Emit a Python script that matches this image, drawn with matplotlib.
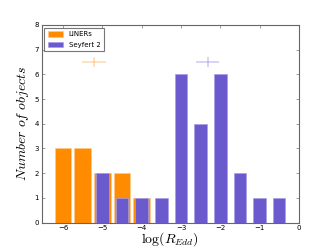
import matplotlib
matplotlib.use("Agg")
import matplotlib.pyplot as plt

plt.rcParams["mathtext.fontset"] = "cm"

liner_centers = [-6.0, -5.5, -5.0, -4.5, -4.0]
liner_counts = [3, 3, 2, 2, 1]
sy2_centers = [-5.0, -4.5, -4.0, -3.5, -3.0, -2.5, -2.0, -1.5, -1.0, -0.5]
sy2_counts = [2, 1, 1, 1, 6, 4, 6, 2, 1, 1]
liner_mean = -5.22
sy2_mean = -2.32
mean_y = 6.5
mean_xerr = 0.3
mean_yerr = 0.2

orange = "#FF8C00"
blue = "#6A5ACD"

fig = plt.figure(figsize=(3.32, 2.49), dpi=100)
ax = fig.add_axes([0.125, 0.106, 0.775, 0.794])

ax.bar(liner_centers, liner_counts, width=0.42, color=orange,
       edgecolor="#FFC888", linewidth=0.5, label="LINERs", zorder=2)
ax.bar(sy2_centers, sy2_counts, width=0.32, color=blue,
       edgecolor="#A89EE6", linewidth=0.5, label="Seyfert 2", zorder=3)

ax.errorbar([liner_mean], [mean_y], xerr=mean_xerr, yerr=mean_yerr,
            color=orange, alpha=0.3, lw=1.2, capsize=0, zorder=4)
ax.errorbar([sy2_mean], [mean_y], xerr=mean_xerr, yerr=mean_yerr,
            color=blue, alpha=0.3, lw=1.2, capsize=0, zorder=4)

ax.set_xlim(-6.55, 0)
ax.set_ylim(0, 8)
ax.set_xticks(range(-6, 1))
ax.set_yticks(range(0, 9))
ax.tick_params(direction="in", top=True, right=True, length=2.5,
               width=0.5, labelsize=5, color="#777777", pad=2)
ax.tick_params(axis="x", pad=1.5)
for s in ax.spines.values():
    s.set_color("#666666")
    s.set_linewidth(0.8)

ax.set_xlabel(r"$\log(R_{Edd})$", fontsize=10, labelpad=-0.5)
ax.set_ylabel(r"$Number\ of\ objects$", fontsize=10, labelpad=2)

leg = ax.legend(loc="upper left", fontsize=5, frameon=True, fancybox=False,
                borderpad=0.5, handlelength=2.2, handleheight=0.9,
                labelspacing=0.6, borderaxespad=0.4)
leg.get_frame().set_edgecolor("#555555")
leg.get_frame().set_linewidth(0.8)

fig.savefig("out.png", dpi=100)
